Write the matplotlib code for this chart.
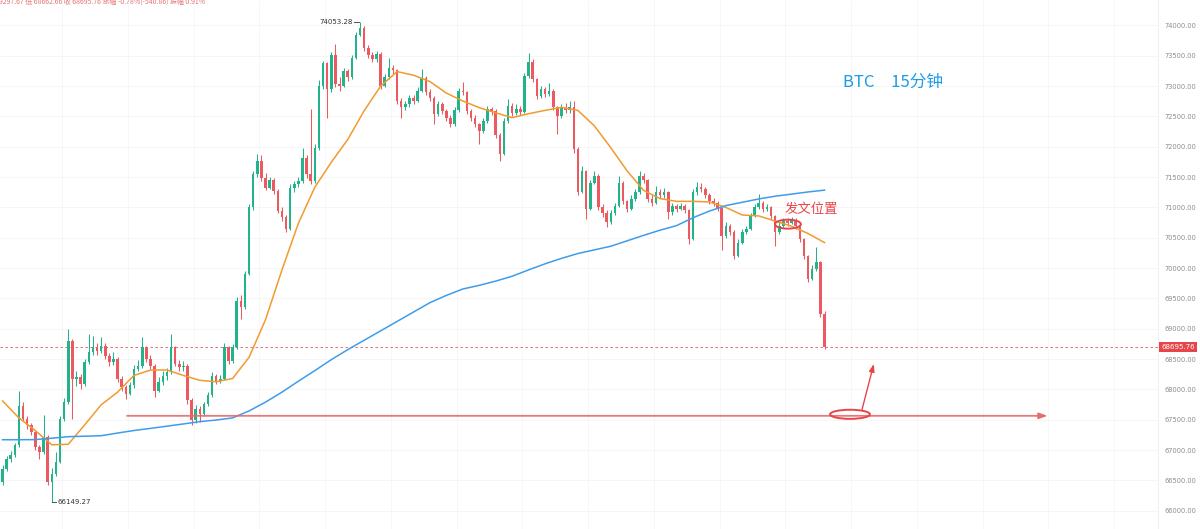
import matplotlib
matplotlib.use("Agg")
import matplotlib.pyplot as plt
import matplotlib.transforms as mtransforms
from matplotlib.patches import Ellipse
import numpy as np

# ---------------- data ----------------
first_open = 66473
closes = [66692, 66856, 66911, 67076, 67734, 67515, 67405, 67295, 67048, 66966,
          67213, 66473, 66610, 66801, 67515, 67789, 68804, 68173, 68201, 68091,
          68448, 68612, 68695, 68640, 68722, 68557, 68448, 68503, 68173, 68036,
          67927, 68064, 68338, 68393, 68695, 68503, 68393, 67981, 68119, 68228,
          68283, 68695, 68420, 68365, 68390, 67817, 67487, 67680, 67597, 67762,
          67900, 68228, 68145, 68173, 68694, 68474, 68694, 69462, 69352, 69901,
          70999, 71549, 71768, 71492, 71328, 71446, 71273, 70944, 70834, 70642,
          71328, 71383, 71437, 71822, 71549, 71432, 71987, 72996, 73380, 72950,
          73520, 73030, 73000, 73250, 73150, 73470, 73850, 73960, 73630, 73520,
          73440, 73530, 73000, 73150, 73300, 73260, 72760, 72650, 72700, 72800,
          72760, 72920, 73140, 72910, 72810, 72535, 72700, 72590, 72480, 72370,
          72600, 72920, 72900, 72590, 72480, 72370, 72260, 72430, 72620, 72590,
          72200, 71880, 72420, 72680, 72560, 72620, 72580, 73170, 73390, 73110,
          72840, 72950, 72870, 72920, 72650, 72510, 72640, 72600, 72650, 71960,
          71250, 71600, 70970, 71410, 71520, 71000, 70900, 70752, 70900, 71030,
          71410, 71100, 70971, 71140, 71250, 71520, 71450, 71140, 71080, 71250,
          71200, 71250, 70920, 71030, 70980, 71030, 70950, 70480, 71250, 71330,
          71300, 71200, 71100, 71080, 70990, 70530, 70700, 70600, 70203, 70420,
          70590, 70640, 70860, 71000, 71080, 70970, 71000, 70860, 70590, 70700,
          70780, 70740, 70800, 70700, 70480, 70200, 69820, 69990, 70094, 69236.62,
          68695.76]
highs = [66760, 66900, 66990, 67120, 67981, 67800, 67560, 67450, 67320, 67080,
         67570, 67240, 66700, 66966, 67560, 67850, 68996, 68830, 68300, 68250,
         68500, 68914, 68887, 68760, 68859, 68760, 68600, 68620, 68540, 68220,
         68080, 68120, 68400, 68480, 68859, 68720, 68560, 68420, 68200, 68300,
         68350, 68914, 68720, 68480, 68460, 68420, 67850, 67740, 67720, 67800,
         67960, 68280, 68260, 68230, 68760, 68720, 68750, 69520, 69560, 69960,
         71050, 71600, 71876, 71860, 71560, 71500, 71480, 71300, 71000, 70880,
         71380, 71440, 71500, 71986, 71860, 72617, 72050, 73100, 73420, 73400,
         73560, 73690, 73150, 73300, 73290, 73520, 73900, 74053.28, 73990, 73680,
         73560, 73580, 73560, 73200, 73470, 73350, 73280, 72800, 72760, 72850,
         72860, 72980, 73276, 73170, 72950, 72840, 72760, 72740, 72620, 72520,
         72650, 72970, 73060, 72920, 72620, 72520, 72400, 72480, 72680, 72660,
         72620, 72230, 72480, 72780, 72720, 72700, 72680, 73220, 73550, 73440,
         73140, 73000, 72990, 73050, 72950, 72680, 72700, 72720, 72760, 72750,
         72000, 71680, 71620, 71460, 71600, 71550, 71050, 70950, 70950, 71080,
         71520, 71430, 71130, 71200, 71300, 71600, 71560, 71470, 71200, 71350,
         71300, 71320, 71270, 71080, 71060, 71080, 71060, 70980, 71300, 71411,
         71400, 71330, 71230, 71150, 71100, 71010, 70760, 70730, 70630, 70480,
         70640, 70700, 70900, 71050, 71218, 71100, 71060, 71020, 70880, 70760,
         70830, 70820, 70850, 70820, 70720, 70500, 70220, 70050, 70341, 70120,
         69297.67]
lows = [66420, 66650, 66800, 66880, 67050, 67480, 67350, 67250, 67000, 66856,
        66940, 66418, 66149.27, 66580, 66780, 67480, 67760, 67515, 68050, 68000,
        68060, 68420, 68560, 68560, 68600, 68500, 68380, 68400, 68120, 67980,
        67844, 67900, 68030, 68300, 68360, 68450, 68330, 67872, 67950, 68080,
        68150, 68250, 68380, 68300, 68300, 67760, 67405, 67450, 67460, 67560,
        67720, 67880, 68090, 68100, 68150, 68420, 68440, 68660, 69160, 69330,
        69880, 70950, 71500, 71440, 71280, 71300, 71220, 70900, 70780, 70600,
        70620, 71250, 71330, 71400, 71480, 71380, 71400, 71950, 72950, 72480,
        72900, 72980, 72920, 72980, 73080, 73120, 73440, 73820, 73580, 73470,
        73390, 73400, 72950, 72980, 73120, 73200, 72700, 72480, 72600, 72660,
        72700, 72740, 72900, 72860, 72760, 72370, 72500, 72540, 72430, 72320,
        72350, 72580, 72850, 72540, 72430, 72320, 72040, 72230, 72400, 72530,
        72150, 71767, 71860, 72400, 72500, 72520, 72520, 72560, 73140, 73060,
        72790, 72800, 72820, 72840, 72600, 72206, 72480, 72550, 72560, 71900,
        71200, 71230, 70807, 70950, 71380, 70950, 70850, 70670, 70720, 70880,
        71000, 71050, 70920, 70950, 71100, 71220, 71400, 71090, 71030, 71050,
        71150, 71160, 70807, 70880, 70930, 70950, 70900, 70400, 70460, 71200,
        71250, 71150, 71050, 71020, 70940, 70290, 70500, 70550, 70150, 70180,
        70400, 70560, 70620, 70840, 70980, 70920, 70940, 70810, 70370, 70560,
        70680, 70700, 70720, 70650, 70430, 70150, 69764, 69800, 69960, 69200,
        68662.66]

# moving averages, read every 4 candles
ma_step = 4
ma_orange = [67810, 67530, 67320, 67086, 67095, 67415, 67745, 67955, 68230, 68318,
             68320, 68230, 68150, 68125, 68180, 68530, 69150, 69970, 70740, 71335,
             71745, 72120, 72595, 73000, 73240, 73180, 73075, 72885, 72755, 72645,
             72560, 72480, 72545, 72600, 72650, 72600, 72345, 71985, 71600, 71280,
             71145, 71100, 71100, 71090, 71000, 70875, 70860, 70775, 70690, 70570,
             70420]
ma_blue = [67170, 67170, 67172, 67195, 67220, 67228, 67236, 67280, 67322, 67357,
           67393, 67430, 67468, 67495, 67530, 67645, 67790, 67955, 68135, 68310,
           68490, 68655, 68810, 68965, 69120, 69275, 69430, 69550, 69655, 69715,
           69785, 69865, 69970, 70070, 70160, 70240, 70300, 70360, 70450, 70540,
           70625, 70700, 70830, 70940, 71030, 71085, 71140, 71185, 71220, 71255,
           71285]

price_ticks = [66000, 66500, 67000, 67500, 68000, 68500, 69000, 69500, 70000,
               70500, 71000, 71500, 72000, 72500, 73000, 73500, 74000]
last_price = 68695.76
support_level = 67564
high_label = 74053.28
low_label = 66149.27
header = "9297.67 低 68662.66 收 68695.76 涨幅 -0.78%(-540.86) 振幅 0.91%"
title_text = "BTC\u300015分钟"
note_text = "发文位置"

# ---------------- figure ----------------
W, H = 1200, 529
fig = plt.figure(figsize=(W / 100, H / 100), dpi=100)
fig.patch.set_facecolor("white")
plot_w = 1158
ax = fig.add_axes([0, 0, plot_w / W, 1])
ax.set_facecolor("white")

px_per_candle = 4.11
x_first = 2.5
ax.set_xlim(-x_first / px_per_candle, (plot_w - x_first) / px_per_candle)
ax.set_ylim(65698, 74420)

n = len(closes)
o = np.array([first_open] + closes[:-1], dtype=float)
c = np.array(closes, dtype=float)
hi = np.array(highs, dtype=float)
lo = np.array(lows, dtype=float)
x = np.arange(n)
green, red = "#22b38a", "#ec5960"
cols = np.where(c >= o, green, red)

# grid
for p in price_ticks:
    ax.axhline(p, color="#f5f5f5", lw=0.6, zorder=0)
for gx in np.arange(14.5, 290, 16):
    ax.axvline(gx, color="#f6f6f6", lw=0.6, zorder=0)

ax.vlines(x, lo, hi, colors=cols, linewidth=0.75, zorder=2)
body_h = np.maximum(np.abs(c - o), 14)
ax.bar(x, body_h, bottom=np.minimum(o, c), width=0.62, color=cols,
       linewidth=0, zorder=2)

ma_x = np.arange(0, n, ma_step)
ax.plot(ma_x, ma_orange, color="#f29a2e", lw=1.1, zorder=3)
ax.plot(ma_x, ma_blue, color="#3e9ceb", lw=1.1, zorder=3)

# last price dashed line
ax.axhline(last_price, color="#e35a5a", lw=0.6, ls=(0, (3, 3)), zorder=1)

# support line with arrow
ax.annotate("", xy=(254.3, support_level), xytext=(30.3, support_level),
            arrowprops=dict(arrowstyle="-|>,head_length=0.5,head_width=0.18",
                            color="#e56a6a", lw=1.3, alpha=0.9,
                            shrinkA=0, shrinkB=0), zorder=4)
ax.add_patch(Ellipse((206.2, 67589), 9.7, 150, fill=False, ec="#e5464b",
                     lw=1.4, zorder=5))
ax.annotate("", xy=(212.0, 68420), xytext=(209.1, 67660),
            arrowprops=dict(arrowstyle="-|>,head_length=0.45,head_width=0.16",
                            color="#e5464b", lw=1.0, shrinkA=0, shrinkB=0),
            zorder=5)

# post-position marker
ax.add_patch(Ellipse((191.1, 70724), 6.3, 148, fill=False, ec="#e5464b",
                     lw=1.4, zorder=5))
cjk = ["Noto Sans CJK SC", "DejaVu Sans"]
ax.text(190.4, 70974, note_text, color="#e8474c", fontsize=9.6, family=cjk,
        ha="left", va="center", zorder=6)
ax.text(204.5, 73068, title_text, color="#1c9be6", fontsize=12, family=cjk,
        ha="left", va="center", zorder=6)

# high / low labels
hi_i = int(np.argmax(hi))
lo_i = int(np.argmin(lo))
ax.plot([hi_i - 1.5, hi_i - 0.2], [high_label, high_label], color="#333333", lw=0.6)
ax.text(hi_i - 1.8, high_label, f"{high_label:.2f}", fontsize=5, color="#333333",
        ha="right", va="center")
ax.plot([lo_i + 0.1, lo_i + 0.9], [low_label, low_label], color="#333333", lw=0.6)
ax.text(lo_i + 1.3, low_label, f"{low_label:.2f}", fontsize=5, color="#333333",
        ha="left", va="center")

# right price axis
ax.yaxis.tick_right()
ax.set_yticks(price_ticks)
ax.set_yticklabels([f"{p:.2f}" for p in price_ticks])
ax.tick_params(axis="y", length=0, pad=5, labelsize=4.8, labelcolor="#8c8c8c")
ax.set_xticks([])
for s in ["top", "left", "bottom"]:
    ax.spines[s].set_visible(False)
ax.spines["right"].set_color("#eeeeee")
ax.spines["right"].set_linewidth(0.6)

trans = mtransforms.blended_transform_factory(ax.transAxes, ax.transData)
ax.text(1.0 + 3 / plot_w, last_price, f"{last_price:.2f}", transform=trans,
        fontsize=5, color="white", ha="left", va="center", zorder=7,
        bbox=dict(boxstyle="square,pad=0.3", fc="#e5454b", ec="none"),
        clip_on=False)

# header (partly cut at the top edge)
fig.text(-0.001, 1 - 2 / H, header, fontsize=5, color="#e57373", family=cjk,
         ha="left", va="center")

fig.savefig("out.png", dpi=100, facecolor="white")
